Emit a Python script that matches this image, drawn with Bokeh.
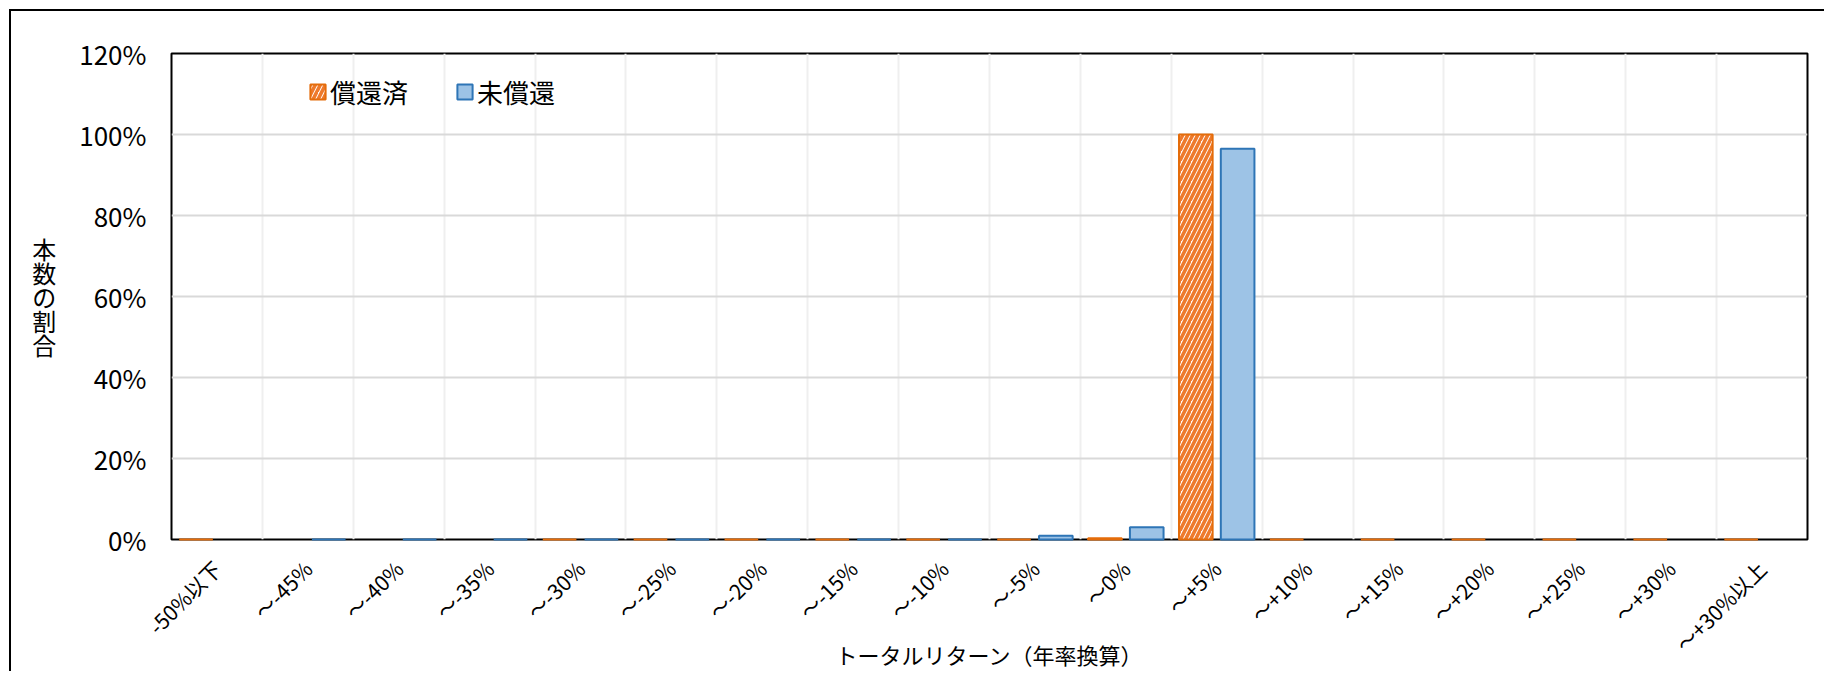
import math
import numpy as np
from bokeh.plotting import figure
from bokeh.models import (ColumnDataSource, Range1d, FixedTicker, NumeralTickFormatter,
                          Legend, LegendItem)
from bokeh.transform import dodge
from bokeh.embed import file_html
from bokeh.resources import INLINE

nan = float("nan")

# ---- data -------------------------------------------------------------
categories = ["-50%以下", "～-45%", "～-40%", "～-35%", "～-30%", "～-25%", "～-20%",
              "～-15%", "～-10%", "～-5%", "～0%", "～+5%", "～+10%", "～+15%",
              "～+20%", "～+25%", "～+30%", "～+30%以上"]
redeemed = [0.0, nan, nan, nan, 0.0, 0.0, 0.0, 0.0, 0.0, 0.0, 0.003, 1.0,
            0.0, 0.0, 0.0, 0.0, 0.0, 0.0]
outstanding = [nan, 0.0, 0.0, 0.0, 0.0, 0.0, 0.0, 0.0, 0.0, 0.009, 0.03, 0.965,
               nan, nan, nan, nan, nan, nan]
series_names = ["償還済", "未償還"]
y_ticks = [0.0, 0.2, 0.4, 0.6, 0.8, 1.0, 1.2]
x_title = "トータルリターン（年率換算）"
y_title = "本数の割合"

# ---- figure -----------------------------------------------------------
FONT = "Noto Sans CJK JP"
n = len(categories)
pos = [i + 0.5 for i in range(n)]
src = ColumnDataSource(dict(pos=pos, redeemed=redeemed, outstanding=outstanding))

p = figure(width=1815, height=662, x_range=Range1d(0, n), y_range=Range1d(0, 1.2),
           output_backend="svg", toolbar_location=None,
           min_border_left=160, min_border_right=19, min_border_top=42,
           min_border_bottom=134)
p.margin = (9, 0, 0, 9)
p.styles = {"border-left": "2px solid #000000", "border-top": "2px solid #000000"}
p.background_fill_color = "white"
p.border_fill_color = "white"
p.outline_line_color = "black"
p.outline_line_width = 2

r1 = p.vbar(x=dodge("pos", -0.23), top="redeemed", bottom=0, width=0.37, source=src,
            fill_color="white", hatch_pattern="/", hatch_color="#EE7A2C",
            hatch_scale=10, hatch_weight=3.6, line_color="#E46C0A", line_width=2,
            level="overlay")
r2 = p.vbar(x=dodge("pos", 0.23), top="outstanding", bottom=0, width=0.37, source=src,
            fill_color="#9DC3E6", line_color="#2E75B6", line_width=2,
            level="overlay")

# axes
p.xaxis.ticker = FixedTicker(ticks=pos)
p.xaxis.major_label_overrides = {pp: c for pp, c in zip(pos, categories)}
p.xaxis.major_label_orientation = math.pi / 4
p.xaxis.major_label_standoff = 19
p.xaxis.major_label_text_font = FONT
p.xaxis.major_label_text_font_size = "21px"
p.xaxis.major_label_text_color = "#000000"
p.xaxis.axis_line_color = None
p.xaxis.major_tick_line_color = None
p.xaxis.minor_tick_line_color = None
p.xaxis.axis_label = x_title
p.xaxis.axis_label_text_font = FONT
p.xaxis.axis_label_text_font_size = "22px"
p.xaxis.axis_label_text_font_style = "normal"
p.xaxis.axis_label_text_color = "#000000"
p.xaxis.axis_label_standoff = -34

p.yaxis.ticker = FixedTicker(ticks=y_ticks)
p.yaxis.formatter = NumeralTickFormatter(format="0%")
p.yaxis.major_label_standoff = 19
p.yaxis.major_label_text_font = FONT
p.yaxis.major_label_text_font_size = "26px"
p.yaxis.major_label_text_color = "#000000"
p.yaxis.axis_line_color = None
p.yaxis.major_tick_line_color = None
p.yaxis.minor_tick_line_color = None
p.yaxis.axis_label = "\n".join(y_title)
p.yaxis.axis_label_orientation = "horizontal"
p.yaxis.axis_label_text_font = FONT
p.yaxis.axis_label_text_font_size = "24px"
p.yaxis.axis_label_text_font_style = "normal"
p.yaxis.axis_label_text_color = "#000000"
p.yaxis.axis_label_text_line_height = 0.68
p.yaxis.axis_label_standoff = 20

# grids
p.xgrid.ticker = FixedTicker(ticks=list(range(1, n)))
p.xgrid.grid_line_color = "#EFEFEF"
p.xgrid.grid_line_width = 2
p.ygrid.ticker = FixedTicker(ticks=y_ticks)
p.ygrid.grid_line_color = "#D9D9D9"
p.ygrid.grid_line_width = 2

# legend
legend = Legend(items=[LegendItem(label=series_names[0], renderers=[r1]),
                       LegendItem(label=series_names[1], renderers=[r2])],
                orientation="horizontal", location=(137, 429),
                glyph_width=19, glyph_height=19, label_standoff=3, spacing=47,
                padding=0, margin=0, border_line_color=None,
                background_fill_alpha=0, label_text_font=FONT,
                label_text_font_size="26px", label_text_color="#000000")
p.add_layout(legend)

open("out.html", "w").write(file_html(p, INLINE))
